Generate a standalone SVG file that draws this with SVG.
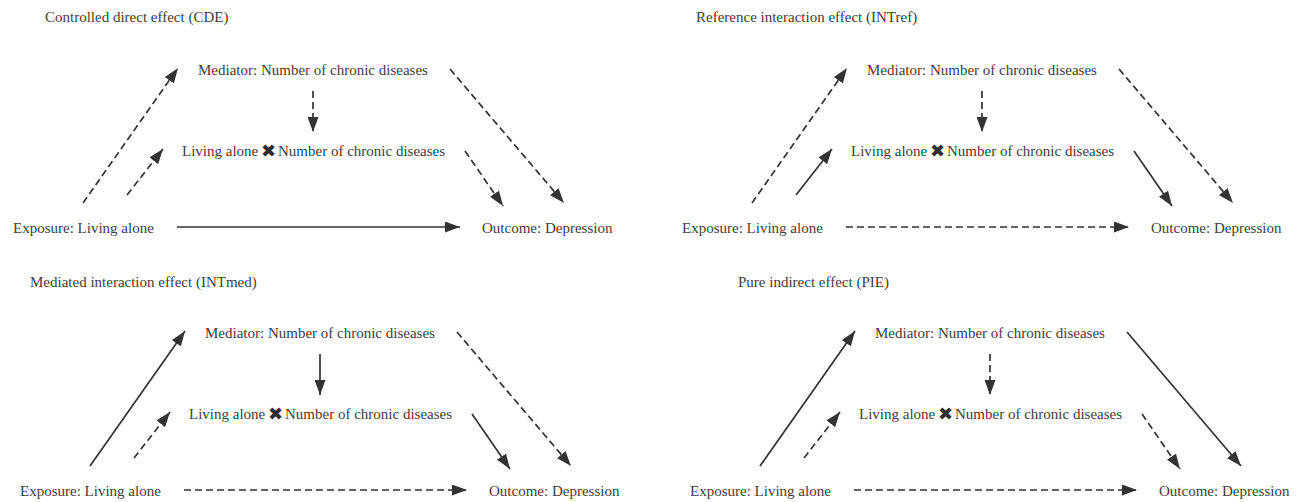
<svg xmlns="http://www.w3.org/2000/svg" width="1297" height="502" viewBox="0 0 1297 502">
<style>
text{font-family:"Liberation Serif","Times New Roman",serif;font-size:15px;fill:#404040}
.x{font-family:"DejaVu Sans",sans-serif;font-size:18px;fill:#2e2e2e}
.c{fill:none;stroke:#333;stroke-width:1.7}
.d{stroke-dasharray:7 4}
</style>
<defs>
<marker id="ah" viewBox="0 0 15 11" refX="15" refY="5.5" markerWidth="15" markerHeight="11" markerUnits="userSpaceOnUse" orient="auto">
<path d="M0,0 L15,5.5 L0,11 z" fill="#333"/>
</marker>
</defs>
<rect width="1297" height="502" fill="#fff"/>
<g id="titles">
<text id="title-cde" x="45" y="22">Controlled direct effect (CDE)</text>
<text id="title-intref" x="696" y="22">Reference interaction effect (INTref)</text>
<text id="title-intmed" x="30" y="287">Mediated interaction effect (INTmed)</text>
<text id="title-pie" x="738" y="287">Pure indirect effect (PIE)</text>
</g>
<!-- Panel 1 -->
<g id="panel-cde">
<g id="p1-mediator"><text x="198" y="75">Mediator: Number of chronic diseases</text></g>
<g id="p1-interaction"><text x="182" y="156">Living alone</text><text class="x" x="261" y="157">✖</text><text x="278" y="156">Number of chronic diseases</text></g>
<g id="p1-exposure"><text x="13" y="233">Exposure: Living alone</text></g>
<g id="p1-outcome"><text x="482" y="233">Outcome: Depression</text></g>
<g id="p1-connectors">
<path class="c d" d="M83,203 L178,68" marker-end="url(#ah)"/>
<path class="c d" d="M127,195 L163,149" marker-end="url(#ah)"/>
<path class="c d" d="M313,91 L313,132" marker-end="url(#ah)"/>
<path class="c d" d="M450,69 L564,203" marker-end="url(#ah)"/>
<path class="c d" d="M465,151 L503,206" marker-end="url(#ah)"/>
<path class="c" d="M177,227 L460,227" marker-end="url(#ah)"/>
</g>
</g>
<!-- Panel 2 -->
<g id="panel-intref" transform="translate(669,0)">
<g id="p2-mediator"><text x="198" y="75">Mediator: Number of chronic diseases</text></g>
<g id="p2-interaction"><text x="182" y="156">Living alone</text><text class="x" x="261" y="157">✖</text><text x="278" y="156">Number of chronic diseases</text></g>
<g id="p2-exposure"><text x="13" y="233">Exposure: Living alone</text></g>
<g id="p2-outcome"><text x="482" y="233">Outcome: Depression</text></g>
<g id="p2-connectors">
<path class="c d" d="M83,203 L178,68" marker-end="url(#ah)"/>
<path class="c" d="M127,195 L163,149" marker-end="url(#ah)"/>
<path class="c d" d="M313,91 L313,132" marker-end="url(#ah)"/>
<path class="c d" d="M450,69 L564,203" marker-end="url(#ah)"/>
<path class="c" d="M465,151 L503,206" marker-end="url(#ah)"/>
<path class="c d" d="M177,227 L460,227" marker-end="url(#ah)"/>
</g>
</g>
<!-- Panel 3 -->
<g id="panel-intmed" transform="translate(7,263)">
<g id="p3-mediator"><text x="198" y="75">Mediator: Number of chronic diseases</text></g>
<g id="p3-interaction"><text x="182" y="156">Living alone</text><text class="x" x="261" y="157">✖</text><text x="278" y="156">Number of chronic diseases</text></g>
<g id="p3-exposure"><text x="13" y="233">Exposure: Living alone</text></g>
<g id="p3-outcome"><text x="482" y="233">Outcome: Depression</text></g>
<g id="p3-connectors">
<path class="c" d="M83,203 L178,68" marker-end="url(#ah)"/>
<path class="c d" d="M127,195 L163,149" marker-end="url(#ah)"/>
<path class="c" d="M313,91 L313,132" marker-end="url(#ah)"/>
<path class="c d" d="M450,69 L564,203" marker-end="url(#ah)"/>
<path class="c" d="M465,151 L503,206" marker-end="url(#ah)"/>
<path class="c d" d="M177,227 L460,227" marker-end="url(#ah)"/>
</g>
</g>
<!-- Panel 4 -->
<g id="panel-pie" transform="translate(677,263)">
<g id="p4-mediator"><text x="198" y="75">Mediator: Number of chronic diseases</text></g>
<g id="p4-interaction"><text x="182" y="156">Living alone</text><text class="x" x="261" y="157">✖</text><text x="278" y="156">Number of chronic diseases</text></g>
<g id="p4-exposure"><text x="13" y="233">Exposure: Living alone</text></g>
<g id="p4-outcome"><text x="482" y="233">Outcome: Depression</text></g>
<g id="p4-connectors">
<path class="c" d="M83,203 L178,68" marker-end="url(#ah)"/>
<path class="c d" d="M127,195 L163,149" marker-end="url(#ah)"/>
<path class="c d" d="M313,91 L313,132" marker-end="url(#ah)"/>
<path class="c" d="M450,69 L564,203" marker-end="url(#ah)"/>
<path class="c d" d="M465,151 L503,206" marker-end="url(#ah)"/>
<path class="c d" d="M177,227 L460,227" marker-end="url(#ah)"/>
</g>
</g>
</svg>
